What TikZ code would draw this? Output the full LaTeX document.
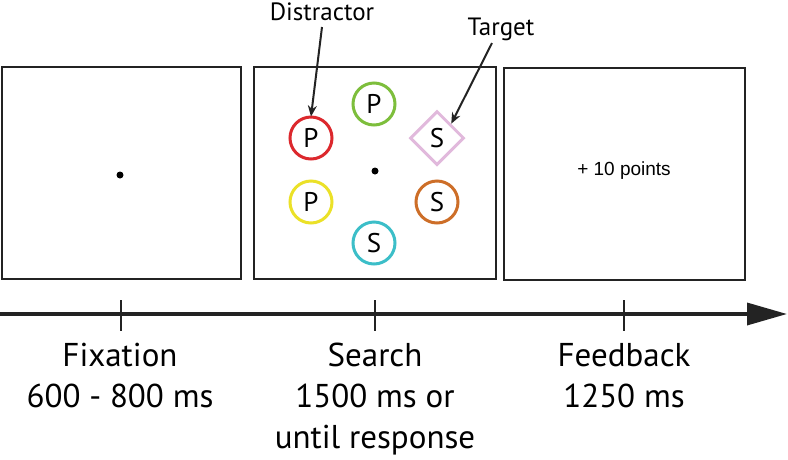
\documentclass[tikz,border=0pt]{standalone}
\usepackage{fontspec}
\setmainfont{PT Sans}
\newfontfamily\arialfont{Liberation Sans}
\usetikzlibrary{arrows.meta,shapes.geometric}
\definecolor{frame}{RGB}{35,35,35}
\definecolor{cred}{RGB}{220,40,45}
\definecolor{cgreen}{RGB}{125,190,60}
\definecolor{cyellow}{RGB}{235,225,40}
\definecolor{corange}{RGB}{205,110,40}
\definecolor{ccyan}{RGB}{60,190,200}
\definecolor{cpink}{RGB}{225,185,220}
\tikzset{
  panel/.style={draw=frame, line width=2pt},
  stim/.style={circle, draw=#1, line width=3pt, minimum size=42pt, inner sep=0pt, font=\fontsize{27}{27}\selectfont},
  fixdot/.style={circle, fill=black, inner sep=0pt, minimum size=7pt},
  lbl/.style={font=\fontsize{33}{36}\selectfont, anchor=base, inner sep=0pt},
  callout/.style={font=\fontsize{25}{28}\selectfont, anchor=base, inner sep=0pt},
  pointer/.style={-{Stealth[length=11pt,width=9pt]}, line width=2pt, draw=frame},
  tick/.style={line width=2.5pt, draw=frame},
}
\begin{document}
\begin{tikzpicture}[x=1pt,y=-1pt]
\useasboundingbox (0,0) rectangle (788,459);
% panels
\draw[panel] (2,67) rectangle (241,279);
\draw[panel] (254,67) rectangle (496,279);
\draw[panel] (504,68) rectangle (745,280);
% fixation
\node[fixdot] (d1) at (120,175) {};
% search display
\node[fixdot] (d2) at (375,171) {};
\node[stim=cred] (red) at (311,138) {P};
\node[stim=cgreen] (green) at (374,104) {P};
\node[stim=cyellow] (yellow) at (311,202) {P};
\node[stim=corange] (orange) at (437,202) {S};
\node[stim=ccyan] (cyan) at (374,243) {S};
\node[diamond, draw=cpink, line width=3pt, minimum size=54pt, inner sep=0pt, font=\fontsize{27}{27}\selectfont] (target) at (437,138) {S};
% callouts
\node[callout] (distr) at (322,20) {Distractor};
\node[callout] (targ) at (501,35) {Target};
\coordinate (ds) at (322,27);
\coordinate (ts) at (492,43);
\draw[pointer] (ds) -- ([yshift=-1pt]red.north);
\draw[pointer] (ts) -- (target.north east);
% feedback
\node[font=\arialfont\fontsize{19}{22}\selectfont, anchor=base, inner sep=0pt] (fb) at (624,175) {+ 10 points};
% timeline
\coordinate (tl0) at (0,314);
\coordinate (tl1) at (787,314);
\draw[line width=3.5pt, draw=frame, -{Triangle[length=40pt,width=22pt]}] (tl0) -- (tl1);
\coordinate (t1a) at (121,300); \coordinate (t1b) at (121,331);
\coordinate (t2a) at (375,300); \coordinate (t2b) at (375,331);
\coordinate (t3a) at (624,300); \coordinate (t3b) at (624,331);
\draw[tick] (t1a) -- (t1b);
\draw[tick] (t2a) -- (t2b);
\draw[tick] (t3a) -- (t3b);
\node[lbl] (fixA) at (120,366) {Fixation};
\node[lbl] (fixB) at (120,407) {600 - 800 ms};
\node[lbl] (srchA) at (375,366) {Search};
\node[lbl] (srchB) at (375,407) {1500 ms or};
\node[lbl] (srchC) at (375,448) {until response};
\node[lbl] (feedA) at (624,366) {Feedback};
\node[lbl] (feedB) at (624,407) {1250 ms};
\end{tikzpicture}
\end{document}
